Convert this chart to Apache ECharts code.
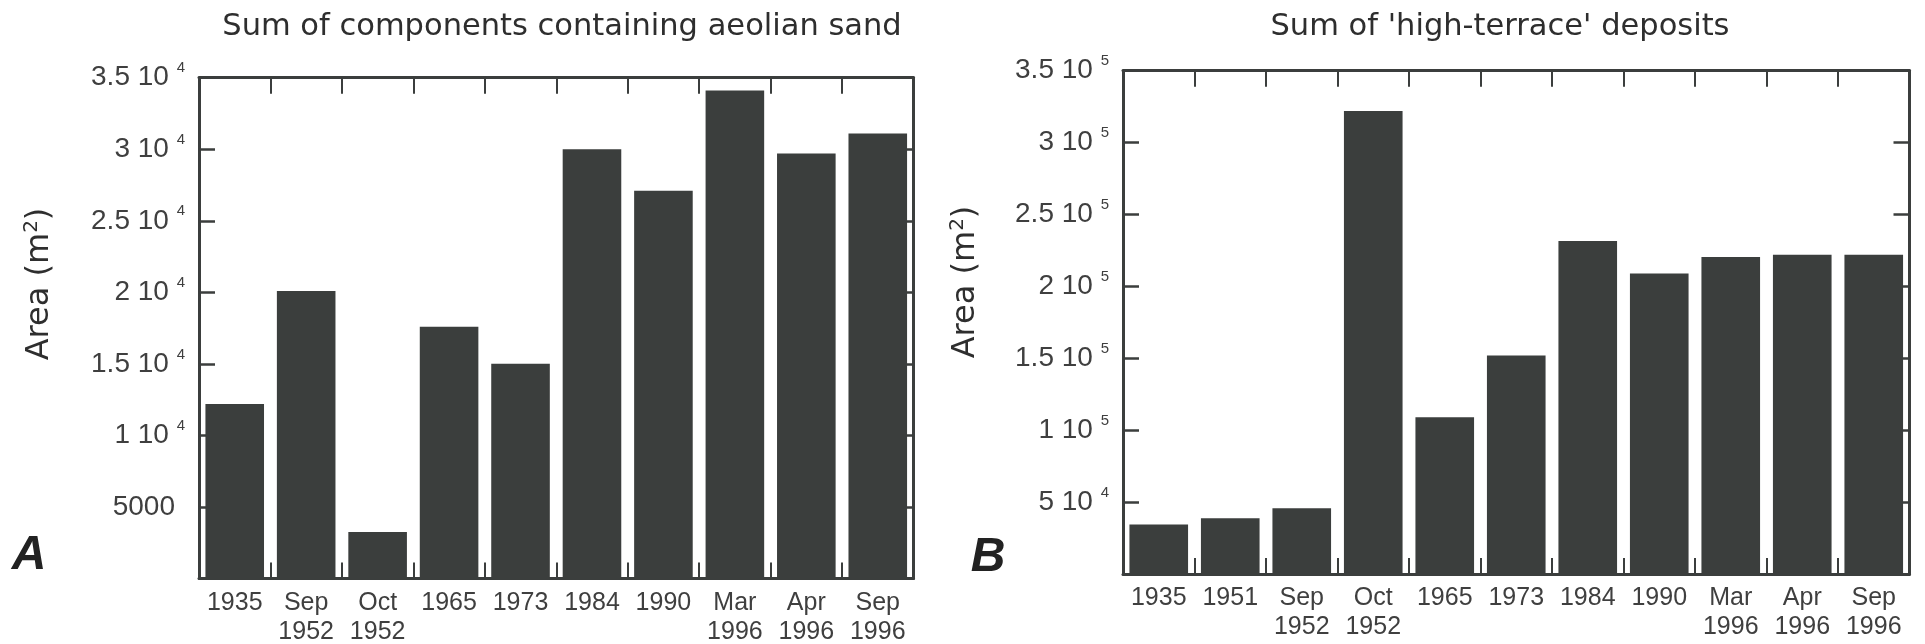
<!DOCTYPE html>
<html>
<head>
<meta charset="utf-8">
<script src="https://cdn.jsdelivr.net/npm/echarts@6/dist/echarts.min.js"></script>
<style>
  html, body { margin: 0; padding: 0; background: #ffffff; }
  #chart { width: 1925px; height: 644px; }
</style>
</head>
<body>
<div id="chart"></div>
<script>
// Panel A: components containing aeolian sand
const categoriesA = ['1935', 'Sep\n1952', 'Oct\n1952', '1965', '1973', '1984', '1990', 'Mar\n1996', 'Apr\n1996', 'Sep\n1996'];
const areaA = [12200, 20100, 3250, 17600, 15000, 30000, 27100, 34100, 29700, 31100];
const axisA = { min: 0, max: 35000, interval: 5000 };

// Panel B: 'high-terrace' deposits
const categoriesB = ['1935', '1951', 'Sep\n1952', 'Oct\n1952', '1965', '1973', '1984', '1990', 'Mar\n1996', 'Apr\n1996', 'Sep\n1996'];
const areaB = [34500, 38700, 45700, 322000, 109000, 152000, 231500, 209000, 220500, 222000, 222000];
const axisB = { min: 0, max: 350000, interval: 50000 };

const panelTitles = ['Sum of components containing aeolian sand', "Sum of 'high-terrace' deposits"];
const panelLetters = ['A', 'B'];
const yName = 'Area (m';

const INK = '#3b3e3d';
const TEXT = '#3f3f3f';
const SANS = 'Liberation Sans, Arial, sans-serif';
const LABEL_FONT = 'DejaVu Sans, sans-serif';

// Tick labels written as "mantissa 10^exp", plain numbers below 10^4
function sciLabel(v) {
  if (v === 0) return '';
  if (v < 10000) return '{b|' + v + '}{p| }';
  const e = Math.floor(Math.log10(v) + 1e-9);
  const m = Math.round(v / Math.pow(10, e) * 100) / 100;
  return '{b|' + m + ' 10 }{e|' + e + '}';
}

// fixed plot boxes; labels may run to the canvas edge
const grids = [
  { left: 199, top: 77.7, width: 714.5, height: 500.8, containLabel: false, outerBoundsMode: 'none' },
  { left: 1123, top: 70.7, width: 786.5, height: 503.3, containLabel: false, outerBoundsMode: 'none' }
];

const panels = [
  { cats: categoriesA, vals: areaA, axis: axisA },
  { cats: categoriesB, vals: areaB, axis: axisB }
];

// frame lines on all four sides, ticks pointing into the plot
const frameLine = { show: true, onZero: false, lineStyle: { color: INK, width: 3 } };
const frameTick = (w) => ({ show: true, inside: true, length: 16, lineStyle: { color: INK, width: w } });

const xAxes = [];
const yAxes = [];
const series = [];

panels.forEach((p, i) => {
  xAxes.push({
    gridIndex: i, type: 'category', data: p.cats, position: 'bottom', z: 5,
    axisLine: frameLine,
    axisTick: frameTick(2),
    axisLabel: { interval: 0, margin: 10, fontSize: 25, lineHeight: 29, color: TEXT, fontFamily: SANS }
  });
  xAxes.push({
    gridIndex: i, type: 'category', data: p.cats, position: 'top',
    axisLine: frameLine,
    axisTick: frameTick(2),
    axisLabel: { show: false }
  });
  yAxes.push({
    gridIndex: i, type: 'value', position: 'left',
    min: p.axis.min, max: p.axis.max, interval: p.axis.interval,
    splitLine: { show: false },
    axisLine: frameLine,
    axisTick: frameTick(2.5),
    axisLabel: {
      margin: 14, formatter: sciLabel,
      rich: {
        b: { fontSize: 28, lineHeight: 34, color: TEXT, fontFamily: SANS },
        e: { fontSize: 15, lineHeight: 15, verticalAlign: 'top', color: TEXT, fontFamily: SANS },
        p: { width: 10, fontSize: 10 }
      }
    }
  });
  yAxes.push({
    gridIndex: i, type: 'value', position: 'right',
    min: p.axis.min, max: p.axis.max, interval: p.axis.interval,
    splitLine: { show: false },
    axisLine: frameLine,
    axisTick: frameTick(2.5),
    axisLabel: { show: false }
  });
  series.push({
    type: 'bar', xAxisIndex: i * 2, yAxisIndex: i * 2,
    data: p.vals, barCategoryGap: '18%',
    itemStyle: { color: INK },
    emphasis: { disabled: true }
  });
});

const graphics = [];
const titleCenters = [562, 1500];
const yNamePos = [[40, 284], [966, 282]];
const letterPos = [[29, 556], [988, 558]];
panelTitles.forEach((t, i) => {
  graphics.push({
    type: 'text', x: titleCenters[i], y: 27,
    style: { text: t, fontSize: 30.5, fontFamily: LABEL_FONT, fill: '#2e2e2e', align: 'center', verticalAlign: 'middle' }
  });
  graphics.push({
    type: 'text', x: yNamePos[i][0], y: yNamePos[i][1], rotation: Math.PI / 2,
    style: {
      text: '{a|' + yName + '}{s|2}{a|)}', align: 'center', verticalAlign: 'middle',
      rich: {
        a: { fontSize: 32, lineHeight: 36, fontFamily: LABEL_FONT, fill: '#2e2e2e' },
        s: { fontSize: 20, lineHeight: 20, verticalAlign: 'top', fontFamily: LABEL_FONT, fill: '#2e2e2e' }
      }
    }
  });
  graphics.push({
    type: 'text', x: letterPos[i][0], y: letterPos[i][1],
    style: { text: panelLetters[i], fontSize: 48, fontWeight: 'bold', fontStyle: 'italic', fontFamily: SANS, fill: '#222222', align: 'center', verticalAlign: 'middle' }
  });
});

const chart = echarts.init(document.getElementById('chart'), null, { renderer: 'canvas' });
chart.setOption({
  animation: false,
  backgroundColor: '#ffffff',
  grid: grids,
  xAxis: xAxes,
  yAxis: yAxes,
  series: series,
  graphic: graphics
});
</script>
</body>
</html>
